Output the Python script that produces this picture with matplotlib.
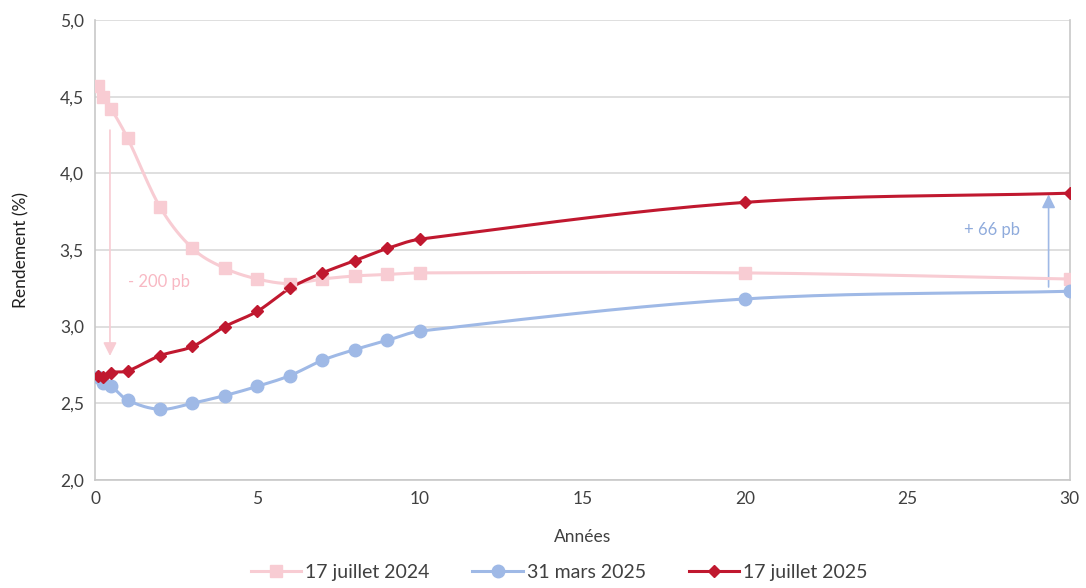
import numpy as np
import matplotlib.pyplot as plt
from matplotlib.ticker import FuncFormatter

# maturities (years)
maturites = [1/12, 0.25, 0.5, 1, 2, 3, 4, 5, 6, 7, 8, 9, 10, 20, 30]

# yields (%)
juil_2024 = [4.57, 4.50, 4.42, 4.23, 3.78, 3.51, 3.38, 3.31, 3.28, 3.31, 3.33, 3.34, 3.35, 3.35, 3.31]
mars_2025 = [2.67, 2.63, 2.61, 2.52, 2.46, 2.50, 2.55, 2.61, 2.68, 2.78, 2.85, 2.91, 2.97, 3.18, 3.23]
juil_2025 = [2.68, 2.67, 2.70, 2.71, 2.81, 2.87, 3.00, 3.10, 3.25, 3.35, 3.43, 3.51, 3.57, 3.81, 3.87]

labels = ["17 juillet 2024", "31 mars 2025", "17 juillet 2025"]
couleurs = ["#f8ccd3", "#9fb9e6", "#c0182f"]
marqueurs = ["s", "o", "D"]
tailles = [9, 9, 6]

plt.rcParams['font.family'] = ['Lato', 'DejaVu Sans']


# smooth line like Excel (Catmull-Rom through the points)
def lisse(x, y, n=20):
    x = np.asarray(x, float)
    y = np.asarray(y, float)
    px = np.concatenate([[2*x[0]-x[1]], x, [2*x[-1]-x[-2]]])
    py = np.concatenate([[2*y[0]-y[1]], y, [2*y[-1]-y[-2]]])
    xs, ys = [], []
    for i in range(1, len(px)-2):
        t = np.linspace(0, 1, n)
        h00 = 2*t**3 - 3*t**2 + 1
        h10 = t**3 - 2*t**2 + t
        h01 = -2*t**3 + 3*t**2
        h11 = t**3 - t**2
        dx = px[i+1] - px[i]
        m0 = (py[i+1]-py[i-1]) / (px[i+1]-px[i-1]) * dx
        m1 = (py[i+2]-py[i]) / (px[i+2]-px[i]) * dx
        xs.append(px[i] + t*dx)
        ys.append(h00*py[i] + h10*m0 + h01*py[i+1] + h11*m1)
    return np.concatenate(xs), np.concatenate(ys)


fig = plt.figure(figsize=(10.86, 5.88), dpi=100)
ax = fig.add_axes([0.0875, 0.184, 0.8975, 0.782])

for serie, lab, c, mk, ms in zip([juil_2024, mars_2025, juil_2025], labels, couleurs, marqueurs, tailles):
    xs, ys = lisse(maturites, serie)
    ax.plot(xs, ys, color=c, lw=2.2, zorder=3)
    ax.plot(maturites, serie, ls="none", marker=mk, ms=ms, color=c, zorder=4)
    ax.plot([], [], color=c, lw=2.2, marker=mk, ms=ms, label=lab)

# arrows
ax.annotate("", xy=(0.46, 2.79), xytext=(0.46, 4.30),
            arrowprops=dict(arrowstyle="-|>", color="#f8ccd3", lw=1.2, mutation_scale=20), zorder=2)
ax.text(1.0, 3.29, "- 200 pb", color="#f8b8c3", fontsize=12, va="center", ha="left")
ax.annotate("", xy=(29.35, 3.88), xytext=(29.35, 3.24),
            arrowprops=dict(arrowstyle="-|>", color="#9fb9e6", lw=1.2, mutation_scale=20), zorder=2)
ax.text(27.6, 3.63, "+ 66 pb", color="#8fabdc", fontsize=12, va="center", ha="center")

ax.set_xlim(0, 30)
ax.set_ylim(2.0, 5.0)
ax.set_xticks([0, 5, 10, 15, 20, 25, 30])
ax.set_yticks(np.arange(2.0, 5.01, 0.5))
ax.yaxis.set_major_formatter(FuncFormatter(lambda v, p: f"{v:.1f}".replace(".", ",")))
ax.grid(axis="y", color="#d9d9d9", lw=1.2)
ax.set_axisbelow(True)
for s in ["left", "bottom", "right"]:
    ax.spines[s].set_color("#c8c8c8")
    ax.spines[s].set_linewidth(1.2)
ax.spines["top"].set_visible(False)
ax.tick_params(length=0, labelsize=12.5, colors="#404040", pad=8)
ax.set_xlabel("Années", fontsize=12.5, color="#404040", labelpad=16)
ax.set_ylabel("Rendement (%)", fontsize=12.5, color="#202020", labelpad=22)

fig.legend(loc="lower center", ncol=3, frameon=False, fontsize=14,
           bbox_to_anchor=(0.515, -0.018), handlelength=2.6, columnspacing=2.2,
           handletextpad=0.2, labelcolor="#404040")

fig.savefig("out.png", dpi=100)
